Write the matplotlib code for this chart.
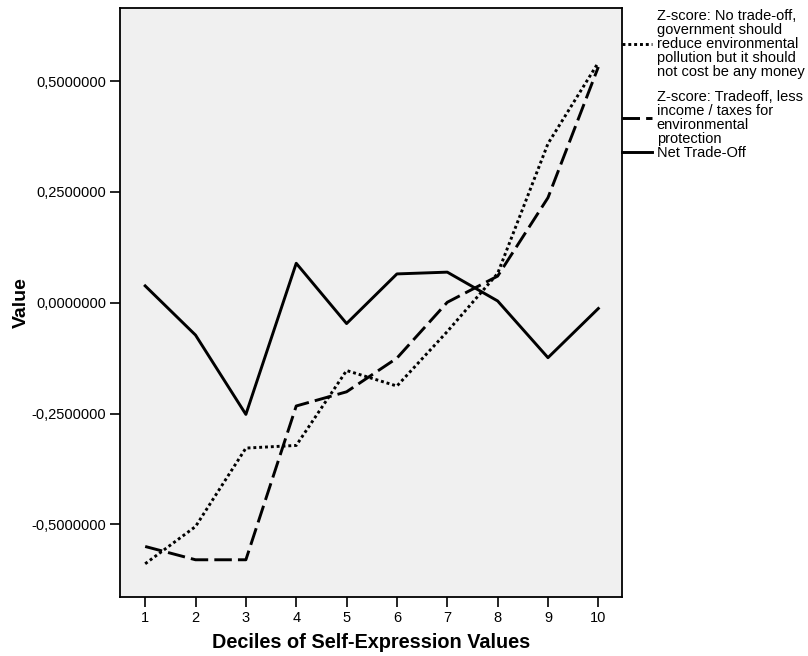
import matplotlib
matplotlib.use('Agg')
import matplotlib.pyplot as plt
from matplotlib.ticker import FuncFormatter

plt.rcParams['font.family'] = ['Liberation Sans', 'DejaVu Sans']

# deciles 1..10
deciles = [1, 2, 3, 4, 5, 6, 7, 8, 9, 10]
no_tradeoff = [-0.589, -0.505, -0.328, -0.322, -0.153, -0.188, -0.065, 0.066, 0.359, 0.542]
tradeoff = [-0.550, -0.580, -0.580, -0.233, -0.201, -0.125, 0.001, 0.060, 0.237, 0.532]
net_tradeoff = [0.038, -0.073, -0.252, 0.089, -0.047, 0.065, 0.069, 0.004, -0.124, -0.013]

labels = ['Z-score: No trade-off,\ngovernment should\nreduce environmental\npollution but it should\nnot cost be any money',
          'Z-score: Tradeoff, less\nincome / taxes for\nenvironmental\nprotection',
          'Net Trade-Off']
yticks = [-0.5, -0.25, 0.0, 0.25, 0.5]

fig = plt.figure(figsize=(8.08, 6.56), dpi=100)
ax = fig.add_axes([120 / 808, 1 - 597 / 656, 502 / 808, 589 / 656])
ax.set_facecolor('#f0f0f0')

lw = 2.1
l1, = ax.plot(deciles, no_tradeoff, color='black', lw=lw, linestyle=(0, (1, 1)))
l2, = ax.plot(deciles, tradeoff, color='black', lw=lw, linestyle=(0, (6, 2.1)))
l3, = ax.plot(deciles, net_tradeoff, color='black', lw=lw, linestyle='-')

ax.set_xlim(0.5, 10.47)
ax.set_ylim(-0.664, 0.665)
ax.set_xticks(deciles)
ax.set_yticks(yticks)
ax.yaxis.set_major_formatter(FuncFormatter(lambda v, p: f'{v:.7f}'.replace('.', ',')))
ax.tick_params(direction='out', length=7, width=1.2, labelsize=10.5, color='black', pad=3)

for s in ax.spines.values():
    s.set_linewidth(1.3)
    s.set_color('black')

ax.set_xlabel('Deciles of Self-Expression Values', fontsize=14.3, fontweight='bold', labelpad=6)
ax.set_ylabel('Value', fontsize=14, fontweight='bold', labelpad=1)

# legend: one entry per block so each can sit where the original has it
legend_y = [44, 118, 153]
for line, lab, yy in zip([l1, l2, l3], labels, legend_y):
    leg = fig.legend([line], [lab], loc='center left', bbox_to_anchor=(622 / 808, 1 - yy / 656),
                     frameon=False, fontsize=10.5, handlelength=2.05, handletextpad=0.34,
                     borderaxespad=0, borderpad=0)
    for t in leg.get_texts():
        t.set_linespacing(1.0)

fig.savefig('out.png', dpi=100)
